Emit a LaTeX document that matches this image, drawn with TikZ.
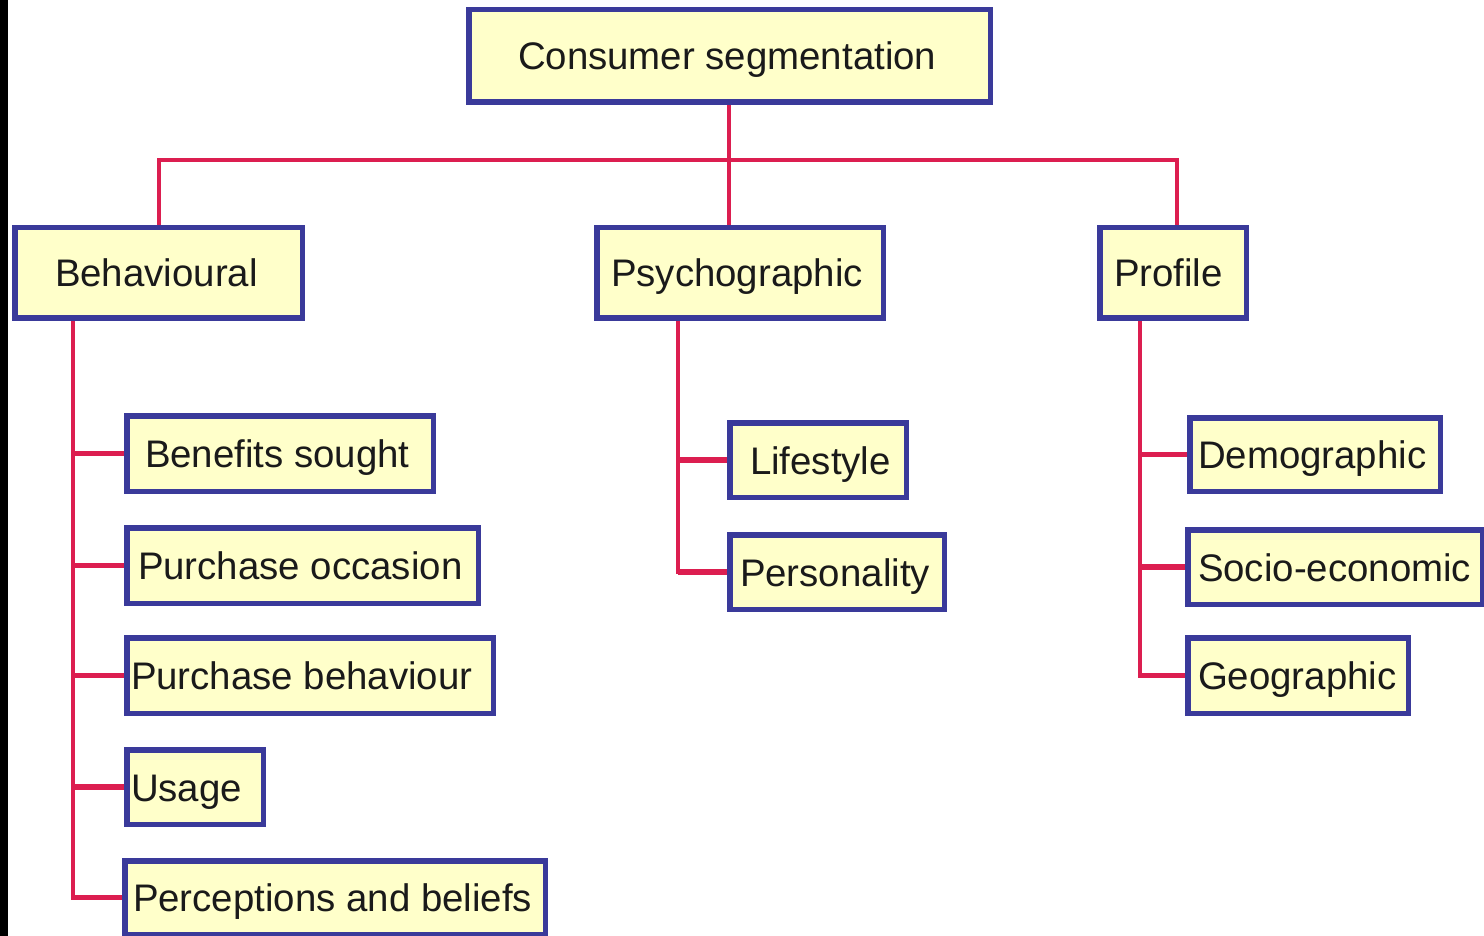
\documentclass[tikz,border=0pt]{standalone}
\usepackage{fontspec}
\setmainfont{Liberation Sans}
\usetikzlibrary{calc}
\definecolor{boxfill}{HTML}{FFFFCA}
\definecolor{boxline}{HTML}{3A3A9A}
\definecolor{connred}{HTML}{DC1E50}
\definecolor{ink}{HTML}{1A1A1A}
\tikzset{
  box/.style={draw=boxline, fill=boxfill, line width=2.5pt},
  lbl/.style={anchor=base west, inner sep=0pt, text=ink, font=\fontsize{19.2}{23}\selectfont},
  conn/.style={draw=connred, line width=2pt},
  branch/.style={draw=connred, line width=2.6pt},
}
\newcommand{\mybox}[6]{%
  \path[box] (#2,#3) rectangle (#4,#5);
  \node[inner sep=0pt, minimum width={(#4-#2)*0.5pt}, minimum height={(#5-#3)*0.5pt}] (#1) at ({(#2+#4)/2},{(#3+#5)/2}) {};
}
\begin{document}
\begin{tikzpicture}[x=0.5pt, y=-0.5pt]
\useasboundingbox (0,0) rectangle (1484,936);
\fill[white] (0,0) rectangle (1484,936);
\fill[black] (0,0) rectangle (8,936);

% boxes
\mybox{top}{469}{10}{990}{102}{}
\mybox{beh}{15}{228}{302}{318}{}
\mybox{psy}{597}{228}{883}{318}{}
\mybox{pro}{1100}{228}{1246}{318}{}
\mybox{ben}{127}{416}{433}{491}{}
\mybox{poc}{127}{528}{478}{603}{}
\mybox{pbe}{127}{638}{493}{713}{}
\mybox{usa}{127}{750}{263}{824}{}
\mybox{per}{125}{861}{545}{934}{}
\mybox{lif}{730}{423}{906}{497}{}
\mybox{pers}{730}{535}{944}{609}{}
\mybox{dem}{1190}{418}{1440}{491}{}
\mybox{soc}{1188}{530}{1482}{604}{}
\mybox{geo}{1188}{638}{1408}{713}{}

% labels
\node[lbl] (ttop) at ($(top.west)+(49,14)$) {Consumer segmentation};
\node[lbl] (tbeh) at ($(beh.west)+(40,14)$) {Behavioural};
\node[lbl] (tpsy) at ($(psy.west)+(14,14)$) {Psychographic};
\node[lbl] (tpro) at ($(pro.west)+(14,14)$) {Profile};
\node[lbl] (tben) at ($(ben.west)+(18,14)$) {Benefits sought};
\node[lbl] (tpoc) at ($(poc.west)+(11,14)$) {Purchase occasion};
\node[lbl] (tpbe) at ($(pbe.west)+(4,14)$) {Purchase behaviour};
\node[lbl] (tusa) at ($(usa.west)+(4,14)$) {Usage};
\node[lbl] (tper) at ($(per.west)+(8,14)$) {Perceptions and beliefs};
\node[lbl] (tlif) at ($(lif.west)+(20,14)$) {Lifestyle};
\node[lbl] (tpers) at ($(pers.west)+(10,14)$) {Personality};
\node[lbl] (tdem) at ($(dem.west)+(8,14)$) {Demographic};
\node[lbl] (tsoc) at ($(soc.west)+(10,14)$) {Socio-economic};
\node[lbl] (tgeo) at ($(geo.west)+(10,14)$) {Geographic};

% top-level connectors
\coordinate (bus) at (729,160);
\draw[conn] (top.south -| bus) -- (bus);
\draw[conn] (bus) -- (psy.north -| bus);
\draw[conn] (beh.north) |- (bus);
\coordinate (prox) at (1177,228);
\draw[conn] (bus) -| (prox);

% behavioural trunk
\coordinate (bt) at (73,318);
\draw[conn] (bt) |- (per.west);
\foreach \n in {ben,poc,pbe,usa,per}
  \draw[branch] (\n.west -| bt) -- (\n.west);

% psychographic trunk
\coordinate (pt) at (678,318);
\draw[conn] (pt) |- (pers.west);
\foreach \n in {lif,pers}
  \draw[branch] (\n.west -| pt) -- (\n.west);

% profile trunk
\coordinate (rt) at (1140,318);
\draw[conn] (rt) |- (geo.west);
\foreach \n in {dem,soc,geo}
  \draw[branch] (\n.west -| rt) -- (\n.west);

% redraw box borders on top of connectors
\foreach \n in {top,beh,psy,pro,ben,poc,pbe,usa,per,lif,pers,dem,soc,geo}
  \draw[draw=boxline, line width=2.5pt] (\n.north west) rectangle (\n.south east);
\end{tikzpicture}
\end{document}
